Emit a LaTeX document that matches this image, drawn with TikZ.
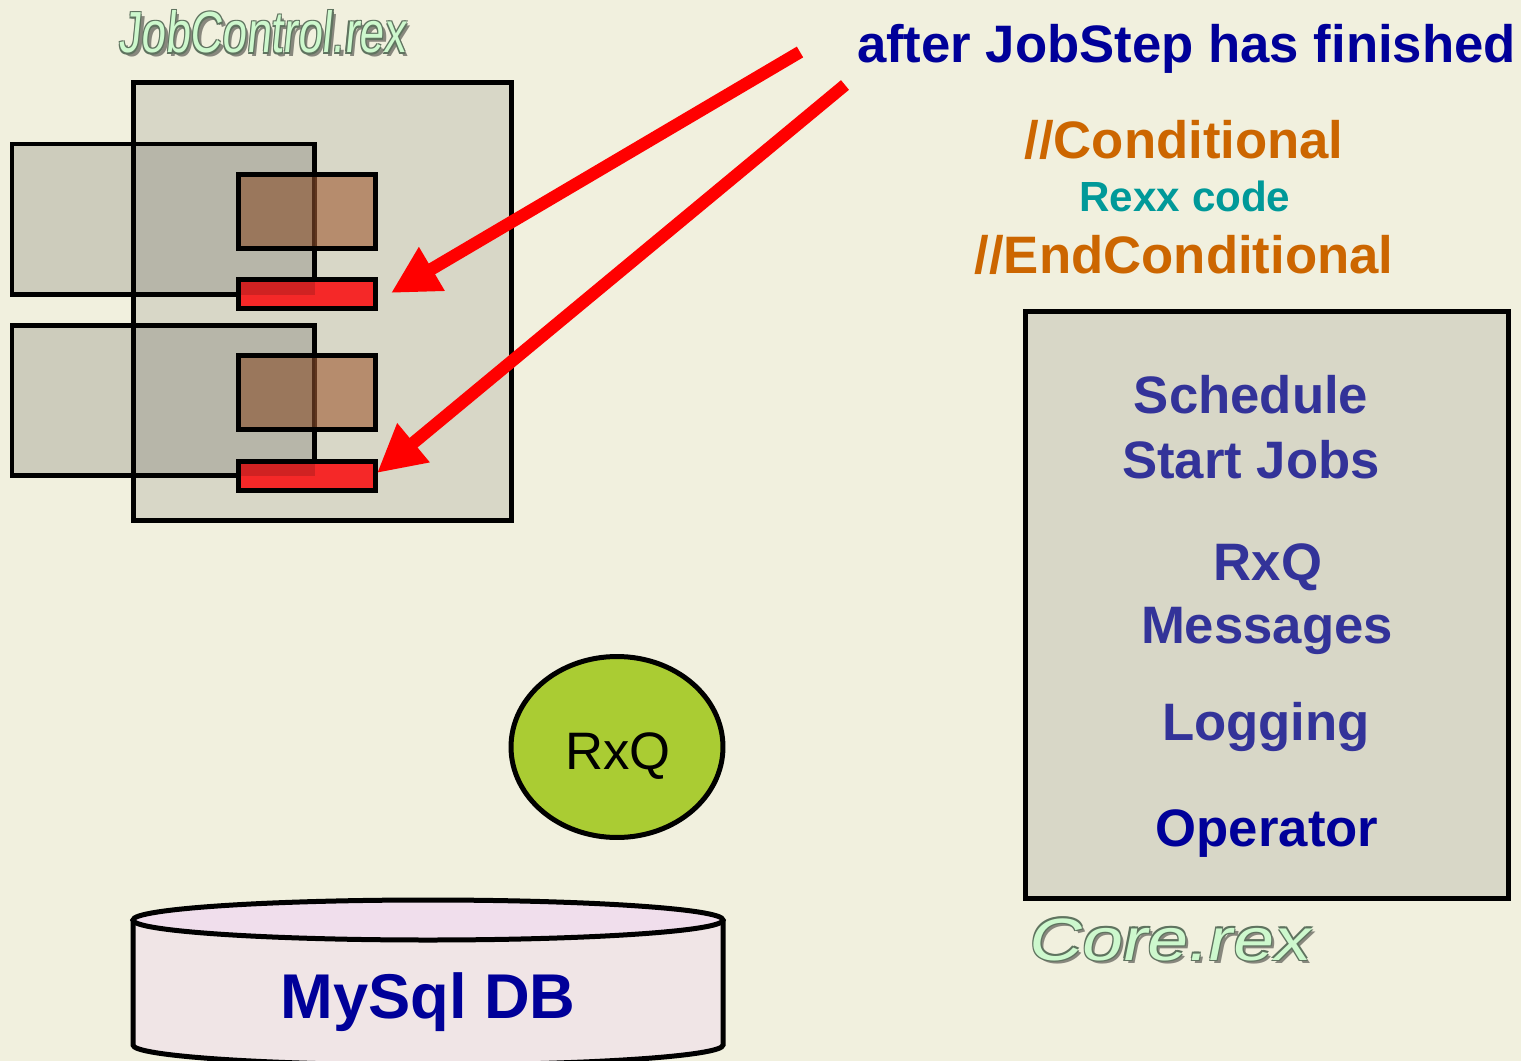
\documentclass[tikz,border=0pt]{standalone}
\usepackage{fontspec}
\setmainfont{Liberation Sans}
\newfontfamily\jcfont{Liberation Sans}[FakeStretch=0.76,FakeSlant=0.1]
\newfontfamily\crfont{Liberation Sans}[FakeStretch=1.23,FakeSlant=0.2]
\usetikzlibrary{arrows.meta,calc,shapes.geometric}
\definecolor{bg}{RGB}{241,240,222}
\definecolor{navy}{RGB}{0,0,153}
\definecolor{indigo}{RGB}{51,51,153}
\definecolor{orng}{RGB}{204,102,0}
\definecolor{tealc}{RGB}{0,153,153}
\definecolor{rxqc}{RGB}{170,204,51}
\definecolor{olfill}{RGB}{205,248,205}
\definecolor{olline}{RGB}{95,115,95}
\definecolor{olshadow}{RGB}{135,135,125}
\definecolor{brownc}{RGB}{160,90,50}
\definecolor{redc}{RGB}{245,40,40}
\definecolor{dbfill}{RGB}{240,222,236}
\newcommand\ottext[1]{\leavevmode
 \rlap{\hspace*{1.9pt}\raisebox{-1.9pt}{\textcolor{olshadow}{#1}}}%
 \rlap{\hspace*{0.6pt}\raisebox{0.6pt}{\textcolor{olline}{#1}}}%
 \rlap{\hspace*{-0.6pt}\raisebox{0.6pt}{\textcolor{olline}{#1}}}%
 \rlap{\hspace*{0.6pt}\raisebox{-0.6pt}{\textcolor{olline}{#1}}}%
 \rlap{\hspace*{-0.6pt}\raisebox{-0.6pt}{\textcolor{olline}{#1}}}%
 \textcolor{olfill}{#1}}
\begin{document}
\begin{tikzpicture}[x=0.02cm,y=-0.02cm,
  every node/.style={inner sep=0pt,outer sep=0pt},
  bord/.style={draw=black,line width=0.1cm},
  bigbox/.style={bord,fill=black,fill opacity=0.1,draw opacity=1,anchor=north west},
  leftframe/.style={bord,anchor=north west},
  leftfill/.style={fill=black,fill opacity=0.15,anchor=north west},
  brownbox/.style={bord,fill=brownc,fill opacity=0.6,anchor=north west,minimum width=2.76cm,minimum height=1.5cm},
  redbox/.style={bord,fill=redc,anchor=north west,minimum width=2.76cm,minimum height=0.6cm},
  redarrow/.style={draw=red,line width=0.25cm,-{Triangle[length=0.95cm,width=0.95cm]}},
  big/.style={font=\fontsize{30}{36}\bfseries\selectfont,anchor=base},
  core/.style={big,text=indigo}
]
\fill[bg] (0,0) rectangle (1521,1061);
\useasboundingbox (0,0) rectangle (1521,1061);
\clip (0,0) rectangle (1521,1061);

% JobControl.rex label
\node[anchor=base] (jclabel) at (262,53) {\fontsize{33}{38}\jcfont\ottext{JobControl.rex}};

% big JobControl box
\node[bigbox,minimum width=7.58cm,minimum height=8.76cm] (jc) at (133,83) {};
% left job boxes (frames)
\node[leftframe,minimum width=6.06cm,minimum height=3.02cm] (job1f) at (12,144) {};
\node[leftframe,minimum width=6.06cm,minimum height=3.02cm] (job2f) at (12,325) {};
% step boxes
\node[brownbox] (step1) at (238,174) {};
\node[brownbox] (step2) at (238,355) {};
\node[redbox] (red1) at (238,279) {};
\node[redbox] (red2) at (238,461) {};
% translucent fills of the job boxes on top
\node[leftfill,minimum width=6.06cm,minimum height=3.02cm] (job1) at (12,144) {};
\node[leftfill,minimum width=6.06cm,minimum height=3.02cm] (job2) at (12,325) {};

% title text
\node[big,text=navy,anchor=base east] (title) at (1516,63) {after JobStep has finished};

% conditional texts
\node[big,text=orng] (cond) at (1184,158) {//Conditional};
\node[anchor=base,font=\fontsize{24}{28}\bfseries\selectfont,text=tealc] (rexx) at (1185,211) {Rexx code};
\node[big,text=orng] (endcond) at (1184,273) {//EndConditional};

% arrows
\coordinate (s1) at (800,52);
\coordinate (s2) at (845,85);
\coordinate (t1) at ($(red1.east)+(15,-1)$);
\coordinate (t2) at ($(red2.east)+(1,-3)$);
\draw[redarrow] (s1) -- (t1);
\draw[redarrow] (s2) -- (t2);

% Core box
\node[bigbox,minimum width=9.68cm,minimum height=11.76cm] (corebox) at (1025,311) {};
\node[core] (sched) at (1251,413) {Schedule};
\node[core] (start) at (1251,478) {Start Jobs};
\node[core] (rxqt) at (1268,580) {RxQ};
\node[core] (msgs) at (1267,643) {Messages};
\node[core] (logg) at (1266,740) {Logging};
\node[big,text=navy] (oper) at (1267,846) {Operator};
\node[anchor=base] (corelabel) at (1167,960) {\fontsize{34}{40}\crfont\ottext{Core.rex}};

% RxQ ellipse
\node[ellipse,bord,fill=rxqc,minimum width=4.24cm,minimum height=3.62cm] (rxq) at (617,747) {};
\node[anchor=base,font=\fontsize{30}{36}\selectfont] (rxqlabel) at (618,769) {RxQ};

% MySql DB cylinder
\path[fill=dbfill,fill opacity=0.6] (133,920) -- (133,1045) .. controls (133,1056) and (265,1065) .. (428,1065) .. controls (591,1065) and (723,1056) .. (723,1045) -- (723,920) -- cycle;
\draw[line width=0.1cm] (133,920) -- (133,1045) .. controls (133,1056) and (265,1065) .. (428,1065) .. controls (591,1065) and (723,1056) .. (723,1045) -- (723,920);
\draw[line width=0.1cm,fill=dbfill] (428,920) ellipse [x radius=295, y radius=20];
\node[anchor=base,font=\fontsize{36}{42}\bfseries\selectfont,text=navy] (db) at (428,1018) {MySql DB};
\end{tikzpicture}
\end{document}
